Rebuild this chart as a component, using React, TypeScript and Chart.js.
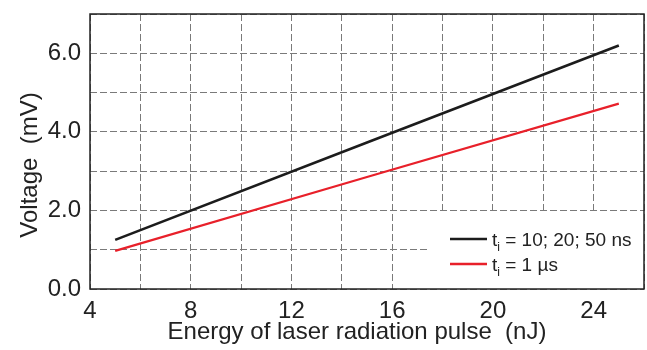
import React, { useEffect, useRef } from "react";
import { Chart, registerables } from "chart.js";

Chart.register(...registerables);

const energy = [5, 15, 25];
const voltageNs = [1.25, 3.73, 6.2];
const voltageUs = [0.97, 2.85, 4.72];
const seriesLabels = ["10; 20; 50 ns", "1 µs"];
const seriesColors = ["#1c1c1c", "#e8202a"];
const xTitle = "Energy of laser radiation pulse  (nJ)";
const yTitle = "Voltage  (mV)";

const FONT = "'Liberation Sans', Arial, Helvetica, sans-serif";

export default function App() {
  const ref = useRef<HTMLCanvasElement | null>(null);

  useEffect(() => {
    const canvas = ref.current;
    if (!canvas) return;

    const decor = {
      id: "decor",
      afterDraw(chart: any) {
        const { ctx, chartArea } = chart;
        const { left, right, top, bottom } = chartArea;
        ctx.save();
        // legend background
        ctx.fillStyle = "#ffffff";
        ctx.fillRect(428, 213, right - 428, bottom - 213);
        // frame
        ctx.strokeStyle = "#222";
        ctx.lineWidth = 1.5;
        ctx.setLineDash([]);
        ctx.strokeRect(left, top, right - left, bottom - top);
        // legend entries
        const rows = [239, 264];
        rows.forEach((y, i) => {
          ctx.strokeStyle = seriesColors[i];
          ctx.lineWidth = 2.5;
          ctx.beginPath();
          ctx.moveTo(450, y);
          ctx.lineTo(487, y);
          ctx.stroke();
          ctx.fillStyle = "#222";
          ctx.textBaseline = "alphabetic";
          ctx.textAlign = "left";
          let x = 492;
          const base = y + 7;
          ctx.font = `19px ${FONT}`;
          ctx.fillText("t", x, base);
          x += ctx.measureText("t").width;
          ctx.font = `12px ${FONT}`;
          ctx.fillText("i", x, base + 5);
          x += ctx.measureText("i").width;
          ctx.font = `19px ${FONT}`;
          ctx.fillText(" = " + seriesLabels[i], x, base);
        });
        // axis titles
        ctx.fillStyle = "#222";
        ctx.font = `24px ${FONT}`;
        ctx.textAlign = "center";
        ctx.textBaseline = "middle";
        ctx.fillText(xTitle, 357, 332);
        ctx.translate(30, 165);
        ctx.rotate(-Math.PI / 2);
        ctx.fillText(yTitle, 0, 0);
        ctx.restore();
      },
    };

    const chart = new Chart(canvas, {
      type: "line",
      data: {
        datasets: [
          {
            label: seriesLabels[0],
            data: energy.map((x, i) => ({ x, y: voltageNs[i] })),
            borderColor: seriesColors[0],
            borderWidth: 2.6,
            pointRadius: 0,
            tension: 0,
          },
          {
            label: seriesLabels[1],
            data: energy.map((x, i) => ({ x, y: voltageUs[i] })),
            borderColor: seriesColors[1],
            borderWidth: 2.2,
            pointRadius: 0,
            tension: 0,
          },
        ],
      },
      options: {
        responsive: false,
        animation: false,
        layout: { padding: { top: 14, right: 3, left: 0, bottom: 0 } },
        plugins: { legend: { display: false }, tooltip: { enabled: false } },
        scales: {
          x: {
            type: "linear",
            min: 4,
            max: 26,
            afterFit: (s: any) => {
              s.height = 61;
              s.paddingLeft = 0;
              s.paddingRight = 0;
            },
            border: { display: false, dash: [7, 3] },
            grid: {
              color: "#7a7a7a",
              lineWidth: 1,
              drawTicks: false,
            },
            ticks: {
              stepSize: 2,
              padding: 8,
              color: "#222",
              font: { family: FONT, size: 24 },
              maxRotation: 0,
              autoSkip: false,
              callback: (v: any) => (Number(v) % 4 === 0 && Number(v) <= 24 ? String(v) : ""),
            },
          },
          y: {
            type: "linear",
            min: 0,
            max: 7,
            afterFit: (s: any) => {
              s.width = 90;
              s.paddingTop = 0;
              s.paddingBottom = 0;
            },
            border: { display: false, dash: [7, 3] },
            grid: {
              color: "#7a7a7a",
              lineWidth: 1,
              drawTicks: false,
            },
            ticks: {
              stepSize: 1,
              padding: 9,
              color: "#222",
              font: { family: FONT, size: 24 },
              autoSkip: false,
              callback: (v: any) => (Number(v) % 2 === 0 ? Number(v).toFixed(1) : ""),
            },
          },
        },
      },
      plugins: [decor],
    } as any);

    return () => chart.destroy();
  }, []);

  return (
    <div style={{ position: "fixed", left: 0, top: 0, width: 647, height: 350, background: "#fff" }}>
      <canvas ref={ref} width={647} height={350} style={{ display: "block" }} />
    </div>
  );
}
